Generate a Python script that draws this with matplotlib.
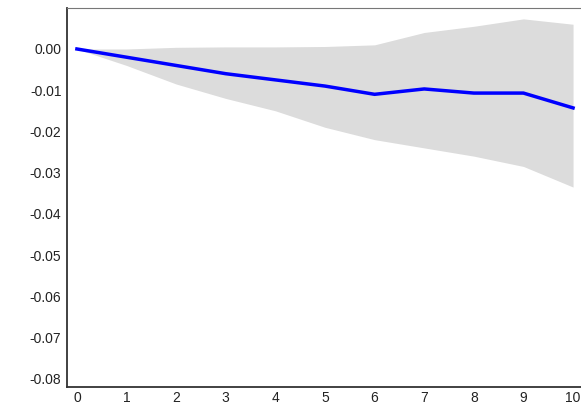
import numpy as np
import matplotlib
matplotlib.use('Agg')
import matplotlib.pyplot as plt

plt.rcParams['font.family'] = ['Liberation Sans', 'DejaVu Sans']

periods = np.arange(11)
response = [0.0, -0.002, -0.004, -0.006, -0.0075, -0.009, -0.011, -0.0097, -0.0107, -0.0107, -0.0143]
upper = [0.0, 0.0, 0.0004, 0.0005, 0.0005, 0.0006, 0.001, 0.004, 0.0055, 0.0073, 0.006]
lower = [0.0, -0.004, -0.0085, -0.012, -0.015, -0.019, -0.022, -0.024, -0.026, -0.0285, -0.0335]
yticks = [-0.08, -0.07, -0.06, -0.05, -0.04, -0.03, -0.02, -0.01, 0.0]


def main():
    fig = plt.figure(figsize=(5.81, 4.08), dpi=100)
    ax = fig.add_axes([0.1153, 0.0515, 0.8847, 0.9285])
    ax.fill_between(periods, lower, upper, color='#dcdcdc', linewidth=0)
    ax.plot(periods, response, color='#0000ff', linewidth=2.5)
    ax.set_xlim(-0.2, 10.16)
    ax.set_ylim(-0.082, 0.0099)
    ax.set_xticks(periods)
    ax.set_yticks(yticks)
    ax.set_yticklabels(['%.2f' % v if v != 0 else '0.00' for v in yticks])
    ax.tick_params(length=0, labelsize=10, pad=4, colors='#222222')
    ax.tick_params(axis='x', pad=3)
    ax.spines['right'].set_visible(False)
    ax.spines['left'].set_color('#333333')
    ax.spines['bottom'].set_color('#333333')
    ax.spines['top'].set_color('#777777')
    ax.spines['left'].set_linewidth(1.3)
    ax.spines['bottom'].set_linewidth(1.3)
    ax.spines['top'].set_linewidth(0.8)
    fig.savefig('out.png', dpi=100)


if __name__ == "__main__":
    main()
